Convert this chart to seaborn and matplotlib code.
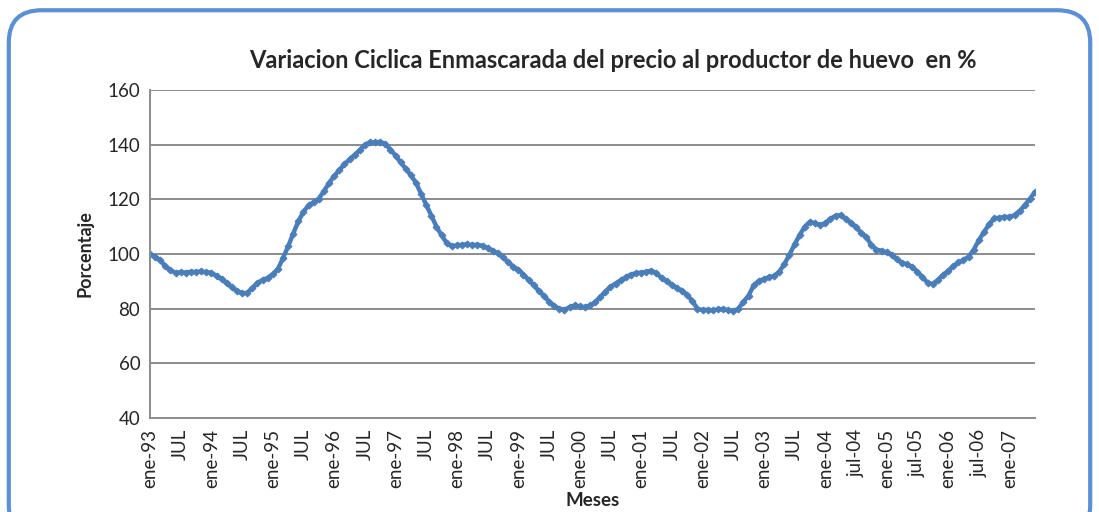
import numpy as np
import pandas as pd
import seaborn as sns
import matplotlib.pyplot as plt
from matplotlib.patches import FancyBboxPatch

# monthly values, ene-93 .. jun-07
y1993 = [100.0, 99.0, 97.8, 95.5, 94.0, 93.2, 93.3, 93.2, 93.5, 93.4, 93.6, 93.3]
y1994 = [93.2, 92.0, 90.8, 89.3, 87.8, 86.5, 85.6, 85.8, 87.5, 89.3, 90.6, 91.2]
y1995 = [92.6, 94.5, 98.5, 102.8, 107.5, 112.0, 115.5, 117.8, 119.0, 120.3, 123.0, 126.0]
y1996 = [128.5, 130.7, 132.8, 134.6, 136.3, 138.0, 140.0, 140.9, 140.8, 141.0, 140.3, 138.2]
y1997 = [136.0, 133.5, 131.2, 128.8, 126.0, 122.0, 118.0, 114.0, 110.0, 106.8, 104.0, 102.8]
y1998 = [103.2, 103.4, 103.5, 103.3, 103.4, 103.0, 102.2, 101.2, 100.2, 98.8, 97.0, 95.4]
y1999 = [94.3, 92.5, 90.5, 88.6, 86.5, 84.7, 82.6, 81.0, 80.0, 79.6, 80.5, 81.2]
y2000 = [80.8, 80.6, 81.2, 82.3, 84.2, 86.2, 88.0, 89.2, 90.4, 91.5, 92.5, 93.0]
y2001 = [93.2, 93.5, 93.9, 93.0, 91.2, 90.0, 88.8, 87.6, 86.6, 85.0, 82.8, 80.0]
y2002 = [79.5, 79.6, 79.4, 79.7, 79.8, 79.5, 79.1, 80.0, 82.5, 84.8, 88.5, 90.2]
y2003 = [90.8, 91.5, 92.0, 93.5, 96.3, 99.8, 103.5, 107.0, 110.0, 111.8, 111.2, 110.6]
y2004 = [111.3, 112.8, 114.0, 114.2, 112.8, 111.5, 109.8, 107.8, 106.3, 103.2, 101.6, 101.2]
y2005 = [100.6, 99.8, 98.0, 96.8, 96.2, 95.3, 93.5, 91.5, 89.5, 89.0, 90.5, 92.3]
y2006 = [93.8, 95.5, 96.9, 97.8, 99.0, 101.5, 105.0, 108.0, 110.8, 113.0, 113.3, 113.5]
y2007 = [113.6, 114.2, 115.8, 117.8, 120.2, 122.7]

tick_labels = ["ene-93", "JUL", "ene-94", "JUL", "ene-95", "JUL", "ene-96", "JUL",
               "ene-97", "JUL", "ene-98", "JUL", "ene-99", "JUL", "ene-00", "JUL",
               "ene-01", "JUL", "ene-02", "JUL", "ene-03", "JUL", "ene-04", "jul-04",
               "ene-05", "jul-05", "ene-06", "jul-06", "ene-07"]

valores = (y1993 + y1994 + y1995 + y1996 + y1997 + y1998 + y1999 + y2000 +
           y2001 + y2002 + y2003 + y2004 + y2005 + y2006 + y2007)
df = pd.DataFrame({"mes": np.arange(len(valores)), "valor": valores})

sns.set_style("white")
plt.rcParams['font.family'] = ['Lato', 'DejaVu Sans']

fig = plt.figure(figsize=(10.99, 5.12), dpi=100)
ax = fig.add_axes([0.1365, 0.1836, 0.8053, 0.6406])

blue = "#4A7EBB"
sns.lineplot(data=df, x="mes", y="valor", ax=ax, color=blue, linewidth=3.2,
             marker="D", markersize=3.5, markeredgecolor=blue)

ax.set_xlim(0, len(valores) - 1)
ax.set_ylim(40, 160)
ax.set_yticks(range(40, 161, 20))
ax.yaxis.grid(True, color="#8C8C8C", linewidth=1.4)
ax.set_axisbelow(True)

ax.set_xticks(np.arange(len(valores)))
labs = [""] * len(valores)
for i, t in enumerate(tick_labels):
    labs[i * 6] = t
ax.set_xticklabels(labs, rotation=90, fontsize=13.5)
ax.tick_params(axis="x", length=4, width=0.8, color="#8C8C8C", pad=4)
ax.tick_params(axis="y", direction="inout", length=8, width=1.2, color="#8C8C8C",
               labelsize=13.5, pad=3)

for s in ["top", "right"]:
    ax.spines[s].set_visible(False)
for s in ["left", "bottom"]:
    ax.spines[s].set_color("#8C8C8C")
    ax.spines[s].set_linewidth(1.4)

ax.set_xlabel("Meses", fontsize=13.5, fontweight="bold", labelpad=3)
ax.set_ylabel("Porcentaje", fontsize=13, fontweight="bold", labelpad=10)
fig.text(0.558, 0.882, "Variacion Ciclica Enmascarada del precio al productor de huevo  en %",
         ha="center", va="center", fontsize=17, fontweight="bold")

frame = FancyBboxPatch((0.008, -0.05), 0.984, 1.03,
                       boxstyle="round,pad=0,rounding_size=0.03",
                       transform=fig.transFigure, fill=False,
                       edgecolor="#5B8FD6", linewidth=3, mutation_aspect=2.1)
fig.patches.append(frame)

fig.savefig("out.png", dpi=100)
